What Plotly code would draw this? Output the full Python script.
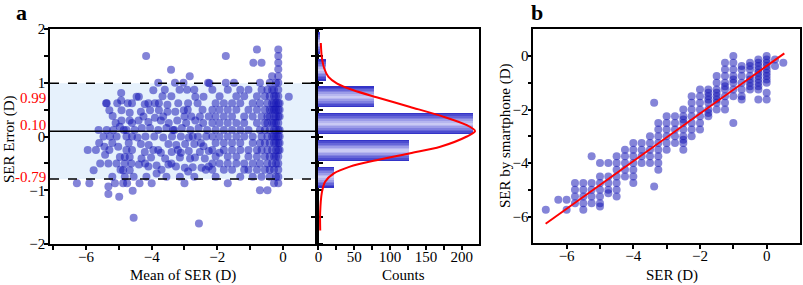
import plotly.graph_objects as go

W, H = 803, 285

# ---------------- Panel a: Bland-Altman points (mean of SER, SER error) ----------------
a_left_pts = [
    (-4.93, 0.81), (-4.93, 0.67), (-5.37, 0.62), (-5.29, 0.49), (-4.73, 0.62), (-5.19, 0.38), (-4.92, 0.49),
    (-4.67, 0.44), (-4.92, 0.30), (-4.67, 0.30), (-5.62, 0.12), (-5.37, 0.12), (-5.17, 0.12), (-4.97, 0.18),
    (-4.77, 0.12), (-4.52, 0.12), (-5.47, 0.0), (-5.27, 0.0), (-5.07, 0.0), (-4.77, 0.0), (-5.95, -0.25),
    (-5.70, -0.25), (-5.44, -0.19), (-5.29, -0.25), (-5.02, -0.19), (-4.77, -0.25), (-5.42, -0.34),
    (-4.97, -0.38), (-4.82, -0.38), (-4.67, -0.38), (-5.57, -0.50), (-5.32, -0.50), (-5.07, -0.50),
    (-4.82, -0.50), (-4.62, -0.50), (-5.77, -0.63), (-4.87, -0.63), (-4.67, -0.63), (-4.82, -0.75),
    (-4.55, -0.75), (-6.28, -0.87), (-5.90, -0.87), (-5.32, -0.93), (-5.12, -0.87), (-4.87, -0.87),
    (-5.32, -1.07), (-4.99, -1.12), (-4.58, -1.01), (-4.55, -1.51), (-5.10, 0.25), (-4.85, 0.12),
    (-4.60, 0.0), (-5.20, -0.12), (-4.70, -0.12), (-4.95, -0.62), (-4.60, -0.25), (-5.05, 0.62),
    (-4.60, 0.62), (-5.20, -0.75), (-4.75, -0.87), (-4.60, 0.25), (-5.60, -0.12), (-5.39, 0.62),
]
a_mid_pts = [
    (-4.17, 1.50), (-3.41, 1.24), (-2.84, 1.12), (-3.80, 1.0), (-3.29, 1.0), (-3.03, 1.0), (-2.28, 1.0),
    (-2.92, 0.87), (-4.39, 0.74), (-3.67, 0.75), (-2.67, 0.74), (-2.42, 0.74), (-4.21, 0.60), (-3.78, 0.62),
    (-3.52, 0.59), (-3.19, 0.62), (-2.89, 0.62), (-4.33, 0.46), (-4.05, 0.49), (-3.78, 0.49), (-3.52, 0.46),
    (-3.28, 0.46), (-3.02, 0.49), (-2.79, 0.37), (-2.53, 0.37), (-2.26, 0.37), (-4.40, 0.30), (-4.10, 0.27),
    (-3.90, 0.35), (-3.72, 0.30), (-3.48, 0.25), (-3.22, 0.30), (-2.95, 0.25), (-2.67, 0.30), (-2.43, 0.25),
    (-4.30, 0.16), (-4.05, 0.16), (-3.80, 0.12), (-3.55, 0.16), (-3.31, 0.12), (-3.08, 0.16), (-2.82, 0.12),
    (-2.57, 0.16), (-2.31, 0.12), (-4.43, -0.02), (-4.19, 0.0), (-3.92, 0.0), (-3.65, -0.02), (-3.38, 0.0),
    (-3.11, 0.0), (-2.87, -0.02), (-2.59, 0.0), (-2.34, 0.0), (-4.33, -0.14), (-4.09, -0.16), (-3.49, -0.14),
    (-3.25, -0.16), (-2.98, -0.14), (-2.70, -0.14), (-2.42, -0.18), (-4.21, -0.29), (-3.95, -0.25),
    (-3.72, -0.30), (-3.39, -0.29), (-3.11, -0.30), (-2.87, -0.27), (-2.53, -0.29), (-2.26, -0.27),
    (-4.31, -0.41), (-4.02, -0.39), (-3.59, -0.41), (-3.14, -0.39), (-2.83, -0.41), (-2.68, -0.39),
    (-2.38, -0.41), (-4.39, -0.52), (-4.10, -0.56), (-3.85, -0.54), (-3.49, -0.52), (-3.26, -0.56),
    (-2.99, -0.58), (-2.75, -0.57), (-2.48, -0.58), (-2.26, -0.56), (-3.85, -0.69), (-3.14, -0.75),
    (-2.89, -0.65), (-4.16, -0.75), (-4.37, -0.87), (-2.56, -1.62), (-3.95, 0.86), (-4.46, 0.74),
    (-4.10, 0.62), (-3.60, 0.87), (-3.40, 0.75), (-3.15, 0.87), (-2.70, 0.87), (-2.45, 0.50), (-2.60, 0.62),
    (-3.65, 0.37), (-3.00, 0.37), (-4.20, -0.50), (-3.70, -0.62), (-3.40, -0.50), (-3.00, -0.87),
    (-2.70, -0.75), (-3.55, -0.75), (-4.00, -0.87), (-3.35, 0.12), (-2.90, 0.50), (-3.90, 0.62),
    (-2.35, -0.62), (-2.50, -0.12), (-3.80, -0.25), (-4.25, 0.37), (-3.20, -0.25), (-2.75, 0.0), (-2.24, 0.99),
]
# right part: points grouped by mean-of-SER column
a_right_cols = [-2.15, -2.05, -1.93, -1.80, -1.74, -1.68, -1.55, -1.49, -1.42, -1.30, -1.18, -1.05, -0.92,
                -0.90, -0.79, -0.70, -0.65, -0.55, -0.47, -0.40, -0.33, -0.27, -0.21, -0.14, -0.10, 0.18]
a_right_errs = [
    [0.87, 0.5, 0.25, 0.0, -0.25, -0.5, -0.62],
    [0.62, 0.37, 0.12, -0.12, -0.37, -0.75],
    [0.75, 0.5, 0.25, 0.0, -0.3, -0.5],
    [0.62, 0.37, 0.12, -0.12, -0.25, -0.62],
    [1.5, 1.0],
    [0.87, 0.5, 0.25, 0.0, -0.37, -0.5, -0.87],
    [0.62, 0.37, 0.12, -0.12, -0.25, -0.62],
    [1.0],
    [0.75, 0.5, 0.25, 0.0, -0.37, -0.5],
    [0.87, 0.62, 0.12, -0.12, -0.25, -0.75],
    [0.75, 0.37, 0.25, 0.0, -0.5, -0.62],
    [0.87, 0.5, 0.12, -0.25, -0.37, -0.62],
    [0.62, 0.37, 0.0, -0.12, -0.5, -0.75],
    [1.37],
    [1.62, 0.75, 0.5, 0.25, -0.25, -0.37, -0.62],
    [1.0, 0.62, 0.12, -0.12, -0.5, -1.0],
    [1.37, 0.87, 0.37, 0.0, -0.25, -0.75],
    [0.75, 0.5, 0.25, 0.12, -0.12, -0.37, -0.62],
    [0.87, 0.62, 0.37, 0.25, 0.0, -0.25, -0.5, -1.0],
    [1.0, 0.75, 0.5, 0.37, 0.12, -0.12, -0.37, -0.62, -0.75],
    [1.12, 0.87, 0.62, 0.5, 0.25, 0.0, -0.25, -0.5],
    [0.87, 0.75, 0.62, 0.5, 0.37, 0.25, 0.12, 0.0, -0.12, -0.37, -0.62, -0.87],
    [1.0, 0.75, 0.62, 0.5, 0.37, 0.25, 0.12, 0.0, -0.12, -0.25, -0.37, -0.5, -0.75],
    [1.62, 1.5, 1.37, 1.25, 1.12, 1.0, 0.87, 0.75, 0.62, 0.5, 0.37, 0.25, 0.12, 0.0, -0.12, -0.25,
     -0.37, -0.5, -0.62, -0.75, -0.87],
    [0.62, 0.5, 0.37, 0.12, 0.0, -0.12, -0.25],
    [0.74],
]
loa_upper, bias, loa_lower = 0.99, 0.10, -0.79

# histogram of SER error (horizontal)
hist_err = [1.74, 1.24, 0.74, 0.24, -0.26, -0.76]
hist_counts = [2, 10, 77, 215, 126, 22]
# fitted distribution curve
curve_err = [1.74, 1.48, 1.27, 1.11, 0.99, 0.86, 0.73, 0.55, 0.37, 0.21, 0.10, 0.0, -0.19, -0.31,
             -0.44, -0.56, -0.69, -0.84, -1.05, -1.42, -1.75]
curve_counts = [3.3, 4.7, 8, 14, 25.6, 49, 81, 128, 174, 207, 218.5, 207, 170, 128, 81, 44, 21, 9.3,
                4.7, 2.4, 2.5]

# ---------------- Panel b: SER vs SER by smartphone ----------------
b_ser_cols = [0.5, 0.25, 0.0, -0.25, -0.5, -0.75, -1.0, -1.25, -1.5, -1.75, -2.0, -2.25, -2.5, -2.75,
              -3.0, -3.25, -3.375, -3.5, -3.75, -4.0, -4.25, -4.5, -4.75, -5.0, -5.25, -5.5, -5.75,
              -6.0, -6.25, -6.625]
b_phone = [
    [-0.25],
    [-0.375, -0.125],
    [0.0, -0.125, -0.25, -0.375, -0.5, -0.625, -0.75, -0.875, -1.0, -1.375, -1.625],
    [-0.125, -0.25, -0.375, -0.5, -0.625, -0.75, -0.875, -1.0, -1.125, -1.25, -1.625],
    [-0.25, -0.375, -0.5, -0.75, -0.875, -1.0, -1.125, -1.25],
    [-0.375, -0.5, -0.75, -1.0, -1.25, -1.5, -1.625],
    [0.0, -0.25, -0.5, -0.75, -0.875, -1.0, -1.25, -1.5, -2.5],
    [-0.25, -0.5, -0.75, -1.0, -1.125, -1.25, -1.5, -1.75, -2.0],
    [-0.75, -1.0, -1.25, -1.375, -1.5, -1.625, -1.75, -2.0],
    [-1.25, -1.375, -1.5, -1.625, -1.75, -2.0, -2.125, -2.25],
    [-1.25, -1.5, -1.75, -2.0, -2.25, -2.5, -2.75],
    [-1.5, -1.75, -2.0, -2.25, -2.5, -2.75, -3.0],
    [-2.0, -2.25, -2.375, -2.5, -2.75, -3.0, -3.125, -3.25, -3.5],
    [-2.25, -2.5, -2.75, -3.0, -3.25],
    [-2.25, -2.5, -2.75, -3.0, -3.25, -3.5],
    [-2.5, -2.75, -3.0, -3.25, -3.5, -3.75, -4.0, -4.25],
    [-1.75, -4.875],
    [-3.0, -3.25, -3.5, -3.75, -4.0],
    [-3.25, -3.5, -3.75, -4.0],
    [-3.25, -3.5, -3.75, -4.0, -4.25, -4.5, -4.75],
    [-3.5, -3.75, -4.0, -4.25, -4.5],
    [-3.75, -4.0, -4.25, -4.5, -4.75, -5.0, -5.25],
    [-4.0, -4.5, -4.75, -5.0, -5.125],
    [-4.0, -4.5, -4.75, -5.0, -5.25, -5.5, -5.625],
    [-3.75, -4.75, -5.0, -5.25, -5.5],
    [-4.75, -5.0, -5.25, -5.5, -5.75],
    [-4.75, -5.0, -5.25, -5.5],
    [-5.375, -5.75],
    [-5.375],
    [-5.75],
]
b_fit_x = [-6.63, 0.53]
b_fit_y = [-6.27, 0.10]

# ---------------- build ----------------
a_mean = [p[0] for p in a_left_pts + a_mid_pts]
a_err = [p[1] for p in a_left_pts + a_mid_pts]
for cx, ys in zip(a_right_cols, a_right_errs):
    a_mean += [cx] * len(ys)
    a_err += ys

b_x, b_y = [], []
for cx, ys in zip(b_ser_cols, b_phone):
    b_x += [cx] * len(ys)
    b_y += ys

FONT = "Liberation Serif"
PT_COLOR = "rgba(20,20,180,0.52)"

fig = go.Figure()

fig.add_trace(go.Scatter(x=a_mean, y=a_err, mode="markers", xaxis="x", yaxis="y",
                         marker=dict(size=8, color=PT_COLOR, line=dict(width=0)), showlegend=False))

# gradient-looking bars: overlays of decreasing thickness
bar_layers = [(0.40, "#3434c8"), (0.34, "#4c4cd0"), (0.28, "#6666d8"), (0.22, "#8080e0"),
              (0.16, "#9c9ce8"), (0.10, "#b6b6ef"), (0.04, "#cacaf4")]
for wdt, col in bar_layers:
    fig.add_trace(go.Bar(x=hist_counts, y=hist_err, orientation="h", width=wdt, xaxis="x2", yaxis="y2",
                         marker=dict(color=col, line=dict(width=0)), showlegend=False))
fig.add_trace(go.Scatter(x=curve_counts, y=curve_err, mode="lines", xaxis="x2", yaxis="y2",
                         line=dict(color="red", width=2, shape="spline", smoothing=0.8), showlegend=False))

fig.add_trace(go.Scatter(x=b_x, y=b_y, mode="markers", xaxis="x3", yaxis="y3",
                         marker=dict(size=8, color=PT_COLOR, line=dict(width=0)), showlegend=False))
fig.add_trace(go.Scatter(x=b_fit_x, y=b_fit_y, mode="lines", xaxis="x3", yaxis="y3",
                         line=dict(color="red", width=2), showlegend=False))

def px_x(p):
    return p / W

def px_y(p):
    return 1 - p / H

axis_common = dict(showline=True, linecolor="black", linewidth=1.5, showgrid=False, zeroline=False,
                   ticks="outside", ticklen=4, tickwidth=1.5, tickcolor="black",
                   tickfont=dict(family=FONT, size=15, color="black"))
minor_common = dict(ticks="outside", ticklen=4, tickwidth=1.5, tickcolor="black")
XSO, YSO = -6, -4

ya_dom = [px_y(244), px_y(29)]
fig.update_layout(
    width=W, height=H, margin=dict(l=0, r=0, t=0, b=0, autoexpand=False),
    paper_bgcolor="white", plot_bgcolor="white", barmode="overlay", bargap=0,
    xaxis=dict(domain=[px_x(50), px_x(317)], range=[-7.1, 1.04], anchor="y", mirror=True,
               tickvals=[-6, -4, -2, 0], minor=dict(tickvals=[-7, -5, -3, -1], **minor_common),
               ticklabelstandoff=XSO, **axis_common),
    yaxis=dict(domain=ya_dom, range=[-2, 2], anchor="x", mirror="ticks", tickvals=[-2, -1, 0, 1, 2],
               minor=dict(tickvals=[-1.5, -0.5, 0.5, 1.5], **minor_common),
               ticklabelstandoff=YSO, **axis_common),
    xaxis2=dict(domain=[px_x(317), px_x(479)], range=[-2, 224], anchor="y2", mirror=True,
                tickvals=[0, 50, 100, 150, 200], minor=dict(tickvals=[25, 75, 125, 175], **minor_common),
                ticklabelstandoff=XSO, **axis_common),
    yaxis2=dict(domain=ya_dom, range=[-2, 2], anchor="x2", mirror=True, showticklabels=False,
                tickvals=[-1.5, -1, -0.5, 0, 0.5, 1, 1.5], **axis_common),
    xaxis3=dict(domain=[px_x(533.3), px_x(800)], range=[-7, 1], anchor="y3", mirror=True,
                tickvals=[-6, -4, -2, 0], minor=dict(tickvals=[-5, -3, -1], **minor_common),
                ticklabelstandoff=XSO, **axis_common),
    yaxis3=dict(domain=[px_y(243.3), px_y(29.3)], range=[-7, 1], anchor="x3", mirror=True,
                tickvals=[-6, -4, -2, 0], minor=dict(tickvals=[-5, -3, -1], **minor_common),
                ticklabelstandoff=YSO, **axis_common),
)

fig.add_shape(type="rect", xref="x domain", yref="y", x0=0, x1=1, y0=loa_lower, y1=loa_upper,
              fillcolor="#e6f1fc", line=dict(width=0), layer="below")
for yv in (loa_upper, loa_lower):
    fig.add_shape(type="line", xref="x domain", yref="y", x0=0, x1=1, y0=yv, y1=yv,
                  line=dict(color="black", width=1.5, dash="dash"))
fig.add_shape(type="line", xref="x domain", yref="y", x0=0, x1=1, y0=bias, y1=bias,
              line=dict(color="black", width=1.5))

def ann(text, x, y, size=15, color="black", angle=0, bold=False, xanchor="center"):
    fig.add_annotation(text=f"<b>{text}</b>" if bold else text, xref="paper", yref="paper",
                       x=px_x(x), y=px_y(y), xanchor=xanchor, yanchor="middle", showarrow=False,
                       textangle=angle, font=dict(family=FONT, size=size, color=color),
                       borderpad=0)

ann("a", 21.5, 12, size=22, bold=True)
ann("b", 537, 12, size=22, bold=True)
ann("Mean of SER (D)", 183, 275)
ann("Counts", 403, 275)
ann("SER (D)", 672, 275)
ann("SER Error (D)", 9, 140, angle=-90)
ann("SER by smartphone (D)", 506, 136, angle=-90)
ann(f"{loa_upper:.2f}", 47, 98, color="red", xanchor="right")
ann(f"{bias:.2f}", 47, 125, color="red", xanchor="right")
ann(f"-{abs(loa_lower):.2f}", 47, 177, color="red", xanchor="right")

fig.write_html("out.html", config={"displayModeBar": False},
               post_script="document.body.style.margin='0px';")
